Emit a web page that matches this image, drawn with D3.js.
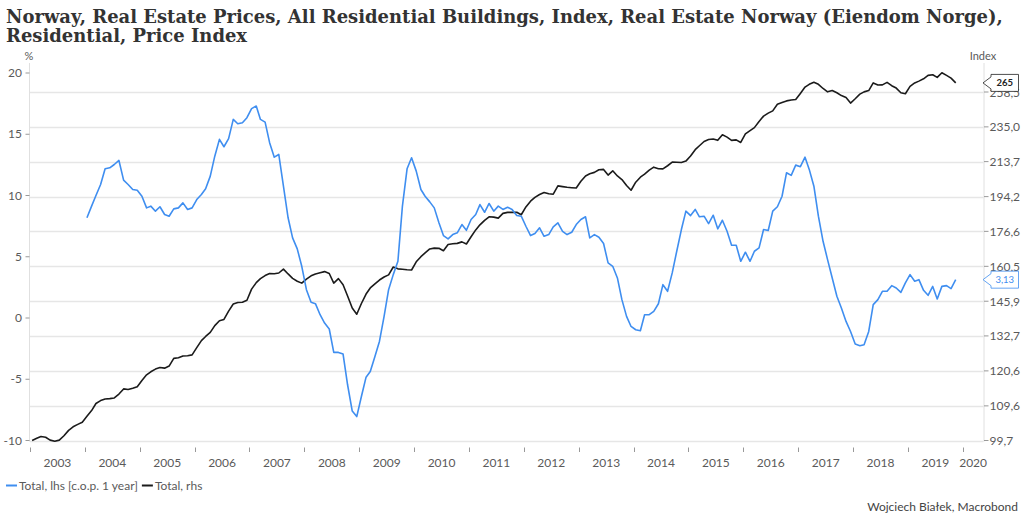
<!DOCTYPE html>
<html><head><meta charset="utf-8">
<script src="https://cdn.jsdelivr.net/npm/d3@7"></script>
<style>
html,body{margin:0;padding:0;background:#fff;}
svg{display:block;}
</style></head>
<body>
<svg id="c" width="1024" height="521"></svg>
<script>
// ---------------- DATA ----------------
const titleLines = ["Norway, Real Estate Prices, All Residential Buildings, Index, Real Estate Norway (Eiendom Norge),", "Residential, Price Index"];
const startYear = 2003;          // black series starts Jan 2003 (monthly)
const blueStartMonth = 12;       // blue series starts Jan 2004 (monthly)
// Total, rhs (index, monthly Jan 2003 - Nov 2019)
const indexValues = [
 99.7,100.3,100.8,100.6,99.8,99.5,99.8,101.0,102.5,103.5,104.2,104.8,
 106.5,108.2,110.3,111.2,111.7,111.8,112.0,113.2,114.8,114.6,115.0,115.5,
 117.5,119.3,120.3,121.2,121.7,121.5,122.2,124.8,125.0,125.6,125.7,126.0,
 128.5,131.0,132.5,134.0,136.5,138.3,138.8,142.0,144.8,145.4,145.5,146.3,
 150.8,153.5,155.2,156.5,157.4,157.3,157.6,159.3,157.2,155.3,154.1,153.3,
 155.0,156.4,157.2,157.7,158.2,157.4,153.3,155.2,152.6,148.0,143.2,140.8,
 145.0,148.8,151.3,153.0,154.6,155.9,156.8,160.2,159.4,159.2,159.0,158.9,
 162.5,164.8,166.5,168.3,168.7,168.6,167.5,170.4,170.7,170.9,171.6,170.6,
 174.0,177.3,179.8,182.0,183.8,183.6,183.1,185.5,186.0,186.0,186.1,184.8,
 188.8,191.8,193.8,195.3,196.4,195.7,195.5,200.0,199.6,199.2,199.0,198.8,
 202.5,205.5,206.7,207.5,209.0,209.2,206.0,208.4,205.5,203.5,200.2,197.6,
 202.0,204.8,206.5,208.8,210.5,209.6,209.5,211.3,213.4,213.3,213.2,214.0,
 217.0,220.8,223.2,225.8,227.0,227.3,226.5,230.0,228.5,226.5,226.8,225.2,
 230.5,232.6,234.5,238.5,242.0,244.0,245.5,250.0,251.2,252.3,252.9,253.2,
 257.5,262.0,264.0,265.5,264.0,261.0,258.6,259.6,258.0,256.0,254.6,250.8,
 253.8,257.0,258.6,259.5,265.0,263.5,263.6,265.4,263.0,261.3,258.0,257.3,
 262.5,265.0,266.3,268.0,270.5,271.0,269.0,272.5,270.5,268.5,265.0
];
// Total, lhs [c.o.p. 1 year] (%, monthly Jan 2004 - Nov 2019)
const yoyValues = [
 8.18,9.13,10.0,10.9,12.18,12.26,12.53,12.86,11.25,10.9,10.49,10.43,
 9.94,8.99,9.13,8.72,9.08,8.45,8.31,8.91,8.99,9.4,8.86,8.99,
 9.67,10.08,10.55,11.58,13.21,14.58,13.98,14.64,16.21,15.86,15.94,16.35,
 17.09,17.3,16.21,15.99,14.31,13.13,13.35,10.76,8.18,6.54,5.64,4.22,
 2.31,1.28,1.17,0.27,-0.41,-0.9,-2.81,-2.81,-2.94,-5.45,-7.6,-8.05,
 -6.41,-4.83,-4.37,-3.14,-1.91,0.13,2.31,3.54,4.63,9.13,12.18,13.08,
 11.99,10.49,9.94,9.48,8.99,7.77,6.73,6.46,6.81,6.95,7.63,7.16,
 8.04,8.45,9.26,8.63,9.35,8.72,9.13,8.86,9.04,8.86,8.37,8.31,
 7.49,6.73,6.89,7.36,6.67,6.81,7.44,7.77,7.08,6.81,7.0,7.63,
 8.04,8.26,6.54,6.81,6.59,6.08,4.5,4.22,3.27,1.5,0.13,-0.69,
 -0.96,-1.04,0.27,0.27,0.54,1.16,2.72,2.18,3.68,5.45,7.22,8.72,
 8.36,8.86,8.26,8.31,7.71,8.39,7.28,7.98,7.08,5.94,5.94,4.63,
 5.37,4.63,5.45,5.72,7.22,7.14,8.72,9.08,9.94,11.86,11.64,12.48,
 12.35,13.13,12.13,10.76,8.31,6.26,4.77,3.27,1.77,0.82,-0.28,-1.1,
 -2.13,-2.26,-2.18,-1.1,1.09,1.5,2.18,2.18,2.64,2.45,2.09,2.86,
 3.54,3.0,3.13,2.26,1.85,2.58,1.55,2.58,2.64,2.4,3.13
];
const leftTicks = [-10,-5,0,5,10,15,20];
const rightTicks = [99.7,109.6,120.6,132.7,145.9,160.5,176.6,194.2,213.7,235.0,258.5];
const yearLabels = [2003,2004,2005,2006,2007,2008,2009,2010,2011,2012,2013,2014,2015,2016,2017,2018,2019,2020];
const seriesNames = ["Total, lhs [c.o.p. 1 year]", "Total, rhs"];
const leftUnit = "%", rightUnit = "Index";
const creditText = "Wojciech Białek, Macrobond";
const lastIndexLabel = "265";
const lastYoyLabel = "3,13";

// ---------------- LAYOUT ----------------
const svg = d3.select("#c");
const L = 30, R = 983.5, T = 73, B = 440.5;
const blue = "#3f8ef0", black = "#1b1b1b", grid = "#e6e6e6", tickCol = "#5a5a5a";
const sans = "Lato, 'Open Sans', sans-serif";

const x = d3.scaleUtc().domain([Date.UTC(2003,0,1), Date.UTC(2020,4,18)]).range([L, R]);
const yL = d3.scaleLinear().domain([-10,20]).range([B, T]);
const yR = d3.scaleLog().domain([99.7,258.5]).range([B, 92]);

const dateOf = m => new Date(Date.UTC(startYear, m, 15));
const blackData = indexValues.map((v,i)=>({d:dateOf(i), v}));
const blueData = yoyValues.map((v,i)=>({d:dateOf(i+blueStartMonth), v}));

// title
const tg = svg.append("g").attr("font-family","'DejaVu Serif', serif").attr("font-weight","bold").attr("fill","#333");
const t1 = tg.append("text").attr("x",6).attr("y",22.5).attr("font-size",18).text(titleLines[0]);
const w1 = t1.node().getComputedTextLength();
const fs = 18 * 997 / w1;
t1.attr("font-size", fs);
tg.append("text").attr("x",6).attr("y",41.5).attr("font-size",fs).text(titleLines[1]);

// gridlines (right axis ticks)
svg.append("g").selectAll("line").data(rightTicks).join("line")
  .attr("x1",L).attr("x2",R).attr("y1",d=>Math.round(yR(d))+0.5).attr("y2",d=>Math.round(yR(d))+0.5)
  .attr("stroke",grid).attr("stroke-width",1.3);

// left axis
const lAx = svg.append("g").attr("font-family",sans).attr("font-size",12).attr("fill",tickCol);
lAx.append("line").attr("x1",L-0.5).attr("x2",L-0.5).attr("y1",63).attr("y2",B+1).attr("stroke","#e0e0e0");
lAx.selectAll("line.t").data(leftTicks).join("line").attr("class","t")
  .attr("x1",L-4.5).attr("x2",L-0.5).attr("y1",d=>yL(d)).attr("y2",d=>yL(d)).attr("stroke","#999");
lAx.selectAll("text").data(leftTicks).join("text")
  .attr("x",22).attr("y",d=>yL(d)+4).attr("text-anchor","end").text(d=>d);
svg.append("text").attr("x",29).attr("y",60).attr("text-anchor","middle").attr("font-family",sans)
  .attr("font-size",11).attr("fill",tickCol).text(leftUnit);

// right axis
const rAx = svg.append("g").attr("font-family",sans).attr("font-size",12).attr("fill",tickCol);
rAx.append("line").attr("x1",R+0.5).attr("x2",R+0.5).attr("y1",63).attr("y2",B+1).attr("stroke","#e0e0e0");
rAx.selectAll("line.t").data(rightTicks).join("line").attr("class","t")
  .attr("x1",R+0.5).attr("x2",R+5).attr("y1",d=>yR(d)).attr("y2",d=>yR(d)).attr("stroke","#999");
rAx.selectAll("text").data(rightTicks).join("text")
  .attr("x",989.5).attr("y",d=>yR(d)+4.5).text(d=>d.toFixed(1).replace(".",","));
svg.append("text").attr("x",983).attr("y",60).attr("text-anchor","middle").attr("font-family",sans)
  .attr("font-size",11).attr("fill",tickCol).text(rightUnit);

// x axis
const xAx = svg.append("g").attr("font-family",sans).attr("font-size",12).attr("fill",tickCol);
xAx.selectAll("line").data(yearLabels).join("line")
  .attr("x1",d=>Math.round(x(Date.UTC(d,0,1)))+0.5).attr("x2",d=>Math.round(x(Date.UTC(d,0,1)))+0.5)
  .attr("y1",447.5).attr("y2",452).attr("stroke","#999");
xAx.selectAll("text").data(yearLabels).join("text")
  .attr("x",d=>(x(Date.UTC(d,0,1)) + Math.min(x(Date.UTC(d+1,0,1)), R))/2)
  .attr("y",467).attr("text-anchor","middle").text(d=>d);

// lines
const lineB = d3.line().x(d=>x(d.d)).y(d=>yR(d.v));
const lineL = d3.line().x(d=>x(d.d)).y(d=>yL(d.v));
svg.append("path").datum(blackData).attr("d",lineB).attr("fill","none").attr("stroke",black)
  .attr("stroke-width",1.6).attr("stroke-linejoin","round");
svg.append("path").datum(blueData).attr("d",lineL).attr("fill","none").attr("stroke",blue)
  .attr("stroke-width",1.6).attr("stroke-linejoin","round");

// value callouts
function callout(yv, txt, col, bold){
  const g = svg.append("g");
  const x0 = R - 0.5, xb = 991, xe = 1018.5, h = 8.5;
  g.append("path").attr("d",`M${x0},${yv} L${xb},${yv-6} L${xb},${yv-h} L${xe},${yv-h} L${xe},${yv+h} L${xb},${yv+h} L${xb},${yv+6} Z`)
    .attr("fill","#fff").attr("stroke",col).attr("stroke-width",0.8);
  g.append("text").attr("x",(xb+xe)/2).attr("y",yv+3.5).attr("text-anchor","middle")
    .attr("font-family",sans).attr("font-size",9.5).attr("font-weight",bold?"bold":"normal").attr("fill",col).text(txt);
}
callout(yR(indexValues[indexValues.length-1]), lastIndexLabel, "#222", true);
callout(yL(yoyValues[yoyValues.length-1]), lastYoyLabel, blue, false);

// legend
const lg = svg.append("g").attr("font-family",sans).attr("font-size",12).attr("fill",tickCol);
lg.append("line").attr("x1",6).attr("x2",17).attr("y1",485.5).attr("y2",485.5).attr("stroke",blue).attr("stroke-width",2);
const lt1 = lg.append("text").attr("x",19).attr("y",489.5).text(seriesNames[0]);
const e1 = 19 + lt1.node().getComputedTextLength() + 4;
lg.append("line").attr("x1",e1).attr("x2",e1+11).attr("y1",485.5).attr("y2",485.5).attr("stroke",black).attr("stroke-width",2);
lg.append("text").attr("x",e1+13).attr("y",489.5).text(seriesNames[1]);

// credit
svg.append("text").attr("x",1018).attr("y",511).attr("text-anchor","end").attr("font-family",sans)
  .attr("font-size",12).attr("fill","#444").text(creditText);
</script>
</body></html>
